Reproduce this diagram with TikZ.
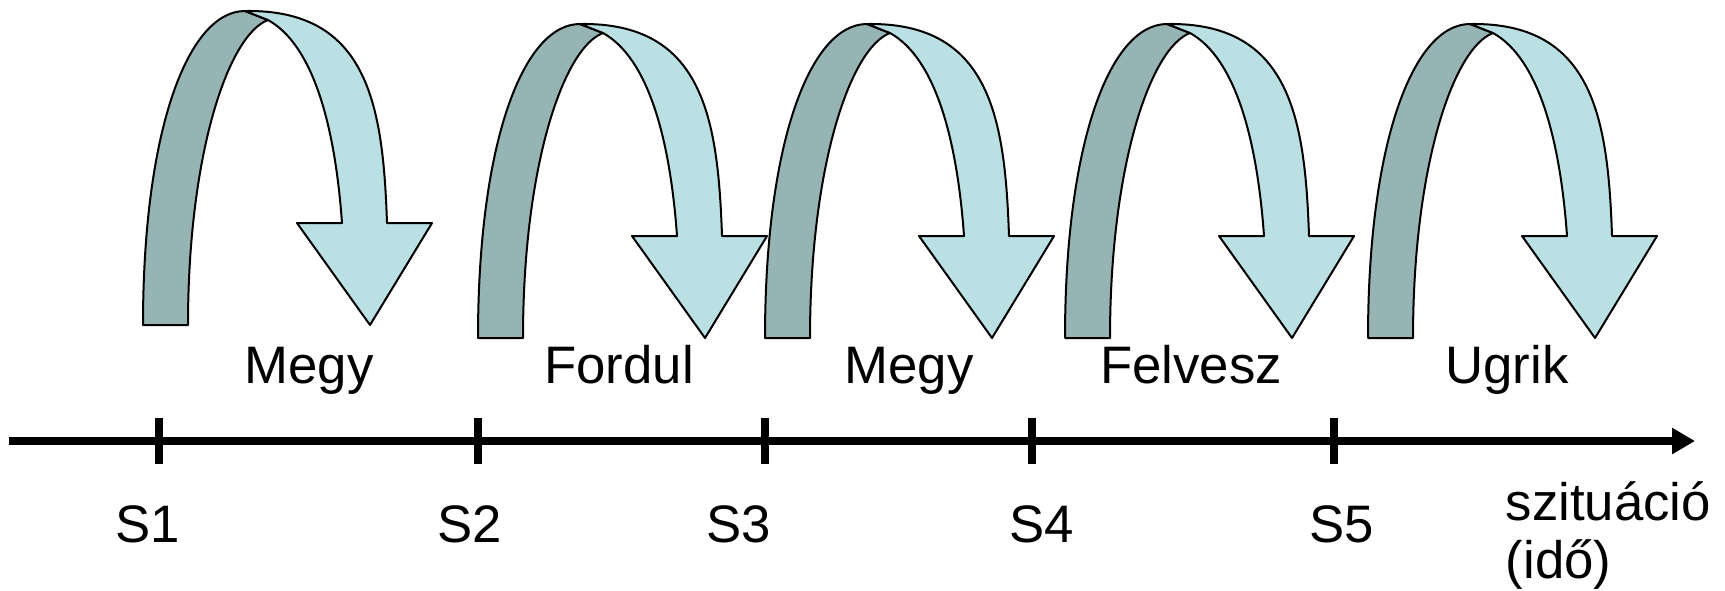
\documentclass[tikz,border=0pt]{standalone}
\usepackage{fontspec}
\setmainfont{Liberation Sans}
\usepackage{xcolor}
\usepackage{tikz}
\usetikzlibrary{arrows.meta}
\definecolor{JumpDark}{HTML}{97B4B5}
\definecolor{JumpLight}{HTML}{BBE0E3}

\tikzset{
  band/.style={draw=black,line width=0.02cm,line join=round},
  jump/.pic={
    \filldraw[band,fill=JumpDark] (0,0) .. controls (0,-195) and (45,-314) .. (102,-314)
      -- (125,-305) .. controls (85,-290) and (45,-170) .. (45,0) -- cycle;
    \filldraw[band,fill=JumpLight] (102,-314) .. controls (225,-316) and (240,-220) .. (244,-102)
      -- (289,-102) -- (227,0) -- (154,-102) -- (199,-102)
      .. controls (192,-200) and (170,-280) .. (125,-305) -- cycle;
  },
  lbl/.style={anchor=base,font=\fontsize{15}{17}\selectfont,inner sep=0pt},
}

\begin{document}
\begin{tikzpicture}[x=0.01cm,y=-0.01cm]
\path[use as bounding box] (0,0) rectangle (1725,590);
% arrows
\pic at (143,325) {jump};
\foreach \x in {478,765,1065,1368}
  \pic at (\x,338) {jump};
% time axis
\coordinate (axstart) at (9,441);
\coordinate (axend) at (1695,441);
\draw[line width=0.08cm,-{Triangle[length=0.23cm,width=0.25cm]}] (axstart) -- (axend);
\foreach \x in {159,478,765,1032,1334}
  \draw[line width=0.08cm] (\x,418) -- (\x,464);
% actions
\node[lbl] (act1) at (309,383) {Megy};
\node[lbl] (act2) at (619,383) {Fordul};
\node[lbl] (act3) at (909,383) {Megy};
\node[lbl] (act4) at (1191,383) {Felvesz};
\node[lbl] (act5) at (1507,383) {Ugrik};
% situations
\node[lbl] (s1) at (148,542) {S1};
\node[lbl] (s2) at (470,542) {S2};
\node[lbl] (s3) at (739,542) {S3};
\node[lbl] (s4) at (1042,542) {S4};
\node[lbl] (s5) at (1342,542) {S5};
\node[lbl,anchor=base west] (sit) at (1505,520) {szituáció};
\node[lbl,anchor=base west] (ido) at (1505,578) {(idő)};
\end{tikzpicture}
\end{document}
